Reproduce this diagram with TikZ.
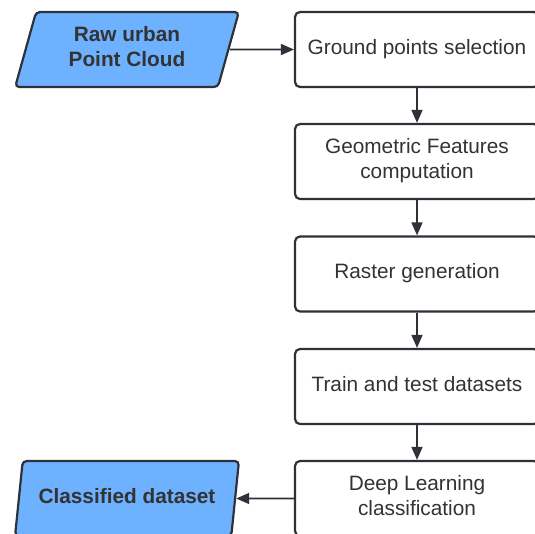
\documentclass[tikz,border=0pt]{standalone}
\usepackage{fontspec}
\setmainfont{Liberation Sans}
\usetikzlibrary{arrows.meta,shapes.geometric}
\definecolor{edgec}{HTML}{2E3238}
\definecolor{txtc}{HTML}{333333}
\definecolor{fillblue}{HTML}{6DB1FF}
\begin{document}
\begin{tikzpicture}[x=1pt,y=-1pt,
  liftup/.style={execute at begin node={\rule{0pt}{16pt}}, execute at end node={\rule[-6.7pt]{0pt}{0pt}}},
  stepbox/.style={draw=edgec, line width=2.2pt, rounded corners=5pt, minimum width=244pt, minimum height=75pt, align=center, font=\fontsize{20.8}{25}\selectfont, text=txtc, inner sep=0pt, fill=white, liftup},
  iobox/.style={trapezium, trapezium left angle=74, trapezium right angle=106, trapezium stretches=true, draw=edgec, fill=fillblue, line width=2.2pt, rounded corners=4pt, minimum width=224pt, minimum height=75pt, align=center, font=\fontsize{20.8}{25}\selectfont\bfseries, text=txtc, inner sep=0pt, liftup},
  conn/.style={draw=edgec, line width=1.6pt, -{Triangle[length=13pt,width=11pt]}}]
\clip (0,0) rectangle (535,533);
\fill[white] (0,0) rectangle (535,533);
\node[iobox] (raw) at (127,49.5) {Raw urban\\Point Cloud};
\node[iobox] (cls) at (127,498.5) {Classified dataset};
\node[stepbox] (g) at (417,49.5) {Ground points selection};
\node[stepbox] (f) at (417,161.5) {Geometric Features\\computation};
\node[stepbox] (r) at (417,274) {Raster generation};
\node[stepbox] (t) at (417,386.5) {Train and test datasets};
\node[stepbox] (d) at (417,498.5) {Deep Learning\\classification};
\draw[conn] (raw.east) -- (g.west);
\draw[conn] (g) -- (f);
\draw[conn] (f) -- (r);
\draw[conn] (r) -- (t);
\draw[conn] (t) -- (d);
\draw[conn] (d.west) -- (cls.east);
\end{tikzpicture}
\end{document}
